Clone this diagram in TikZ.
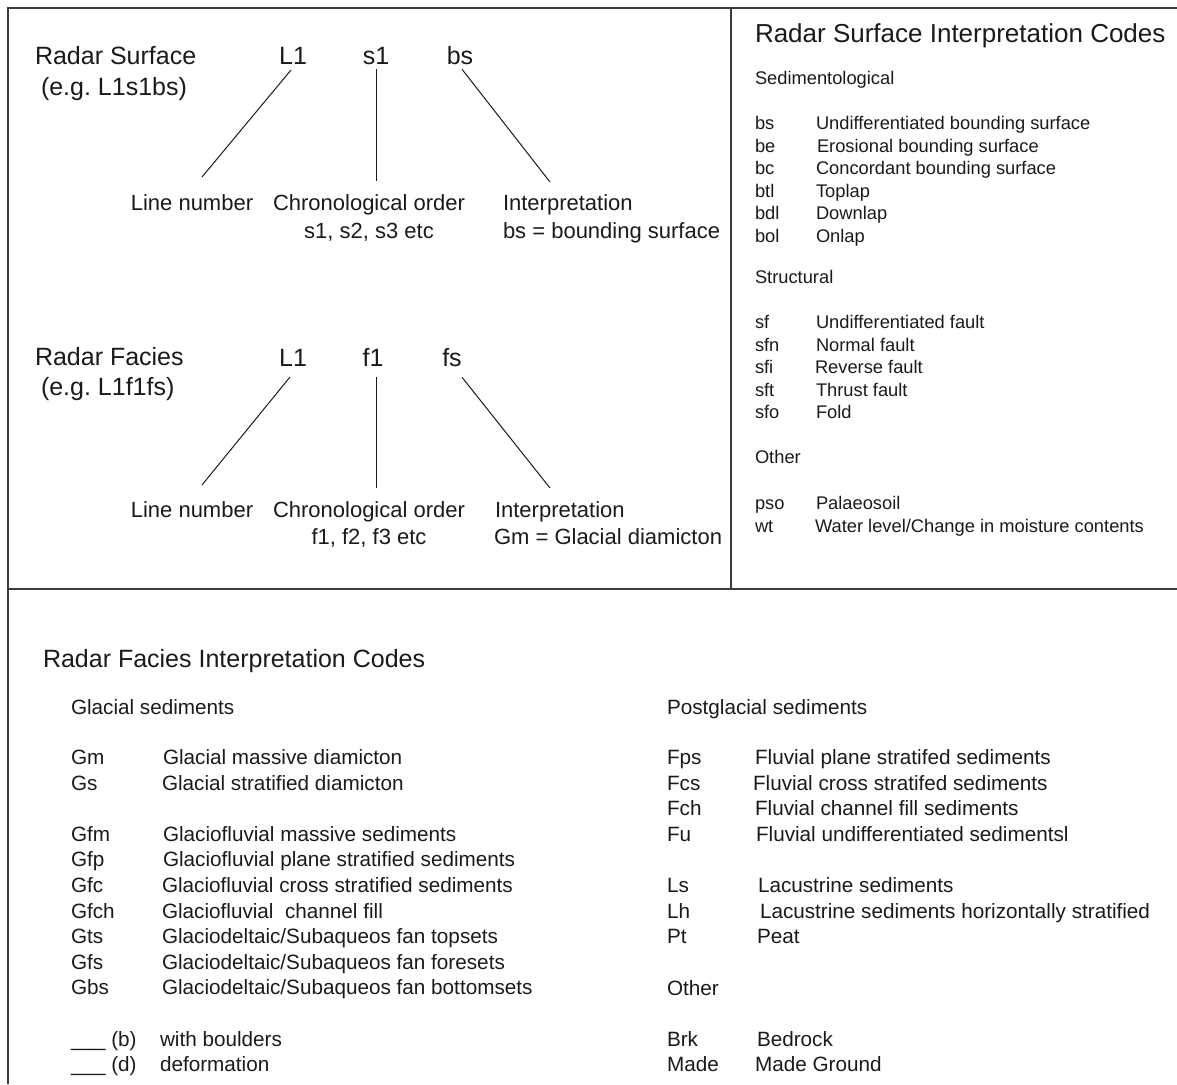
\documentclass[tikz,border=0pt]{standalone}
\usepackage{fontspec}
\setmainfont{Liberation Sans}
\frenchspacing
\begin{document}
\definecolor{ink}{HTML}{1A1A1A}
\definecolor{rule}{HTML}{3C3C3C}
\begin{tikzpicture}[x=1pt,y=-1pt,
  txt/.style={anchor=base west, inner sep=0pt, outer sep=0pt, text=ink},
  ctxt/.style={anchor=base, inner sep=0pt, outer sep=0pt, text=ink},
  huge/.style={font=\fontsize{25}{30}\selectfont},
  head/.style={font=\fontsize{26}{31}\selectfont},
  mid/.style={font=\fontsize{22}{26}\selectfont},
  lst/.style={font=\fontsize{18.3}{22}\selectfont},
  blst/.style={font=\fontsize{20.7}{25}\selectfont},
  conn/.style={draw=ink, line width=1pt},
  frame/.style={draw=rule, line width=2pt}]
\useasboundingbox (0,0) rectangle (1177,1084);

% panel frame
\draw[frame] (8,1084) -- (8,8) -- (1177,8);
\draw[frame] (8,589) -- (1177,589);
\draw[frame] (731,8) -- (731,589);

% ---------- radar surface naming ----------
\node[txt,huge] (rs) at (35,64) {Radar Surface};
\node[txt,huge] (rseg) at (41,95) {(e.g. L1s1bs)};
\node[ctxt,huge] (sL1) at (293,64) {L1};
\node[ctxt,huge] (ss1) at (376,64) {s1};
\node[ctxt,huge] (sbs) at (460,64) {bs};
\node[ctxt,mid] (sln) at (192,210) {Line number};
\node[ctxt,mid] (sco) at (369,210) {Chronological order};
\node[ctxt,mid] (sco2) at (369,238) {s1, s2, s3 etc};
\node[txt,mid] (sint) at (503,210) {Interpretation};
\node[txt,mid] (sint2) at (503,238) {bs = bounding surface};
\coordinate (sL1e) at (202,177);
\coordinate (ss1e) at (376,181);
\coordinate (sbse) at (550,182);
\draw[conn] ([xshift=-2pt,yshift=-6pt]sL1.south) -- (sL1e);
\draw[conn] ([yshift=-5pt]ss1.south) -- (ss1e);
\draw[conn] ([xshift=2pt,yshift=-5pt]sbs.south) -- (sbse);

% ---------- radar facies naming ----------
\node[txt,huge] (rf) at (35,365) {Radar Facies};
\node[txt,huge] (rfeg) at (41,395) {(e.g. L1f1fs)};
\node[ctxt,huge] (fL1) at (293,366) {L1};
\node[ctxt,huge] (ff1) at (373,366) {f1};
\node[ctxt,huge] (ffs) at (452,366) {fs};
\node[ctxt,mid] (fln) at (192,517) {Line number};
\node[ctxt,mid] (fco) at (369,517) {Chronological order};
\node[ctxt,mid] (fco2) at (369,544) {f1, f2, f3 etc};
\node[txt,mid] (fint) at (495,517) {Interpretation};
\node[txt,mid] (fint2) at (494,544) {Gm = Glacial diamicton};
\coordinate (fL1e) at (202,485);
\coordinate (ff1e) at (376,488);
\coordinate (ffse) at (550,488);
\draw[conn] ([xshift=-3pt,yshift=-11pt]fL1.south) -- (fL1e);
\draw[conn] ([xshift=3pt,yshift=-11pt]ff1.south) -- (ff1e);
\draw[conn] ([xshift=10pt,yshift=-11pt]ffs.south) -- (ffse);

% ---------- radar surface codes ----------
\node[txt,head] (rsc) at (755,42) {Radar Surface Interpretation Codes};
\node[txt,lst] (sedh) at (755,84) {Sedimentological};
\node[txt,lst] (c-bs)  at (755,129) {bs};  \node[txt,lst] (d-bs)  at (816,129) {Undifferentiated bounding surface};
\node[txt,lst] (c-be)  at (755,152) {be};  \node[txt,lst] (d-be)  at (817,152) {Erosional bounding surface};
\node[txt,lst] (c-bc)  at (755,174) {bc};  \node[txt,lst] (d-bc)  at (816,174) {Concordant bounding surface};
\node[txt,lst] (c-btl) at (755,197) {btl}; \node[txt,lst] (d-btl) at (816,197) {Toplap};
\node[txt,lst] (c-bdl) at (755,219) {bdl}; \node[txt,lst] (d-bdl) at (816,219) {Downlap};
\node[txt,lst] (c-bol) at (755,242) {bol}; \node[txt,lst] (d-bol) at (816,242) {Onlap};
\node[txt,lst] (strh) at (755,283) {Structural};
\node[txt,lst] (c-sf)  at (755,328) {sf};  \node[txt,lst] (d-sf)  at (816,328) {Undifferentiated fault};
\node[txt,lst] (c-sfn) at (755,351) {sfn}; \node[txt,lst] (d-sfn) at (816,351) {Normal fault};
\node[txt,lst] (c-sfi) at (755,373) {sfi}; \node[txt,lst] (d-sfi) at (815,373) {Reverse fault};
\node[txt,lst] (c-sft) at (755,396) {sft}; \node[txt,lst] (d-sft) at (816,396) {Thrust fault};
\node[txt,lst] (c-sfo) at (755,418) {sfo}; \node[txt,lst] (d-sfo) at (816,418) {Fold};
\node[txt,lst] (othh) at (755,463) {Other};
\node[txt,lst] (c-pso) at (755,509) {pso}; \node[txt,lst] (d-pso) at (816,509) {Palaeosoil};
\node[txt,lst] (c-wt)  at (755,532) {wt};  \node[txt,lst] (d-wt)  at (815,532) {Water level/Change in moisture contents};

% ---------- radar facies codes ----------
\node[txt,huge] (rfc) at (43,667) {Radar Facies Interpretation Codes};
\node[txt,blst] (glh) at (71,714) {Glacial sediments};
\node[txt,blst] (c-Gm)   at (71,764) {Gm};   \node[txt,blst] (d-Gm)   at (163,764) {Glacial massive diamicton};
\node[txt,blst] (c-Gs)   at (71,790) {Gs};   \node[txt,blst] (d-Gs)   at (162,790) {Glacial stratified diamicton};
\node[txt,blst] (c-Gfm)  at (71,841) {Gfm};  \node[txt,blst] (d-Gfm)  at (163,841) {Glaciofluvial massive sediments};
\node[txt,blst] (c-Gfp)  at (71,866) {Gfp};  \node[txt,blst] (d-Gfp)  at (163,866) {Glaciofluvial plane stratified sediments};
\node[txt,blst] (c-Gfc)  at (71,892) {Gfc};  \node[txt,blst] (d-Gfc)  at (162,892) {Glaciofluvial cross stratified sediments};
\node[txt,blst] (c-Gfch) at (71,918) {Gfch}; \node[txt,blst] (d-Gfch) at (162,918) {Glaciofluvial\ \ channel fill};
\node[txt,blst] (c-Gts)  at (71,943) {Gts};  \node[txt,blst] (d-Gts)  at (162,943) {Glaciodeltaic/Subaqueos fan topsets};
\node[txt,blst] (c-Gfs)  at (71,969) {Gfs};  \node[txt,blst] (d-Gfs)  at (162,969) {Glaciodeltaic/Subaqueos fan foresets};
\node[txt,blst] (c-Gbs)  at (71,994) {Gbs};  \node[txt,blst] (d-Gbs)  at (162,994) {Glaciodeltaic/Subaqueos fan bottomsets};
\node[txt,blst] (c-b) at (71,1046) {\_\_\_ (b)}; \node[txt,blst] (d-b) at (160,1046) {with boulders};
\node[txt,blst] (c-d) at (71,1071) {\_\_\_ (d)}; \node[txt,blst] (d-d) at (160,1071) {deformation};

\node[txt,blst] (pgh) at (667,714) {Postglacial sediments};
\node[txt,blst] (c-Fps)  at (667,764) {Fps};  \node[txt,blst] (d-Fps)  at (755,764) {Fluvial plane stratifed sediments};
\node[txt,blst] (c-Fcs)  at (667,790) {Fcs};  \node[txt,blst] (d-Fcs)  at (753,790) {Fluvial cross stratifed sediments};
\node[txt,blst] (c-Fch)  at (667,815) {Fch};  \node[txt,blst] (d-Fch)  at (755,815) {Fluvial channel fill sediments};
\node[txt,blst] (c-Fu)   at (667,841) {Fu};   \node[txt,blst] (d-Fu)   at (756,841) {Fluvial undifferentiated sedimentsl};
\node[txt,blst] (c-Ls)   at (667,892) {Ls};   \node[txt,blst] (d-Ls)   at (758,892) {Lacustrine sediments};
\node[txt,blst] (c-Lh)   at (667,918) {Lh};   \node[txt,blst] (d-Lh)   at (760,918) {Lacustrine sediments horizontally stratified};
\node[txt,blst] (c-Pt)   at (667,943) {Pt};   \node[txt,blst] (d-Pt)   at (757,943) {Peat};
\node[txt,blst] (oth2)   at (667,995) {Other};
\node[txt,blst] (c-Brk)  at (667,1046) {Brk};  \node[txt,blst] (d-Brk)  at (757,1046) {Bedrock};
\node[txt,blst] (c-Made) at (667,1071) {Made}; \node[txt,blst] (d-Made) at (755,1071) {Made Ground};
\end{tikzpicture}
\end{document}
